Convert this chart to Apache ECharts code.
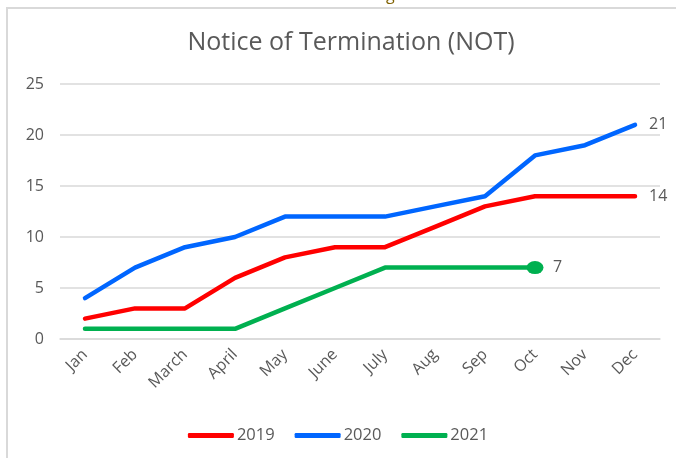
<!DOCTYPE html>
<html style="height: 100%">
<head>
<meta charset="utf-8">
<script src="https://cdn.jsdelivr.net/npm/echarts@6/dist/echarts.min.js"></script>
<title>Notice of Termination (NOT)</title>
</head>
<body style="height: 100%; margin: 0; background: #fff">
<div id="container" style="width: 676px; height: 458px"></div>
<script type="text/javascript">

let months = ['Jan', 'Feb', 'March', 'April', 'May', 'June', 'July', 'Aug', 'Sep', 'Oct', 'Nov', 'Dec'];
let yr2019 = [2, 3, 3, 6, 8, 9, 9, 11, 13, 14, 14, 14];
let yr2020 = [4, 7, 9, 10, 12, 12, 12, 13, 14, 18, 19, 21];
let yr2021 = [1, 1, 1, 1, 3, 5, 7, 7, 7, 7];

const txt = '#595959';
const fontName = 'Open Sans';

function lineSeries(name, arr, color, dist, marker) {
    let data = arr.slice();
    if (marker) {
        // big dot on the last 2021 point
        data[data.length - 1] = { value: arr[arr.length - 1], symbol: 'circle', symbolSize: [17, 13] };
    }
    return {
        name: name,
        type: 'line',
        data: data,
        symbol: 'none',
        lineStyle: { width: 4.5, color: color, cap: 'round', join: 'round' },
        itemStyle: { color: color },
        endLabel: {
            show: true,
            distance: dist,
            color: txt,
            fontSize: 16,
            fontFamily: fontName,
            formatter: '{c}'
        },
        emphasis: { disabled: true },
        z: 3
    };
}

let chart = echarts.init(document.getElementById('container'));
chart.setOption({
    animation: false,
    backgroundColor: '#fff',
    title: {
        text: 'Notice of Termination (NOT)',
        left: 346, top: 25, textAlign: 'center',
        textStyle: { color: txt, fontSize: 25, fontWeight: 'normal', fontFamily: fontName }
    },
    graphic: [
        { type: 'rect', shape: { x: 6, y: 7, width: 670, height: 2 }, style: { fill: '#d9d9d9' } },
        { type: 'rect', shape: { x: 6, y: 7, width: 2, height: 451 }, style: { fill: '#d9d9d9' } },
        { type: 'text', left: 386, top: -13, style: { text: 'g', fill: '#7f6000', font: '16px "Open Sans"' } }
    ],
    legend: {
        bottom: 9, left: 'center',
        itemWidth: 46, itemHeight: 5, itemGap: 20,
        icon: 'roundRect',
        textStyle: { color: txt, fontSize: 16.5, fontFamily: fontName, padding: [0, 0, 0, -2] },
        data: ['2019', '2020', '2021']
    },
    grid: { left: 60, right: 16, top: 84, bottom: 119, containLabel: false },
    xAxis: {
        type: 'category',
        data: months,
        boundaryGap: true,
        axisLine: { show: true, lineStyle: { color: '#d9d9d9', width: 1.5 } },
        axisTick: { show: false },
        axisLabel: { rotate: 45, color: txt, fontSize: 16, fontFamily: fontName, margin: 13, interval: 0 }
    },
    yAxis: {
        type: 'value',
        min: 0, max: 25, interval: 5,
        axisLine: { show: false },
        axisTick: { show: false },
        axisLabel: { color: txt, fontSize: 16, fontFamily: fontName, margin: 16 },
        splitLine: { lineStyle: { color: '#d9d9d9', width: 1.5 } }
    },
    series: [
        lineSeries('2019', yr2019, '#ff0000', 14, false),
        lineSeries('2020', yr2020, '#0066ff', 14, false),
        lineSeries('2021', yr2021, '#00b050', 18, true)
    ]
});
</script>
</body>
</html>
